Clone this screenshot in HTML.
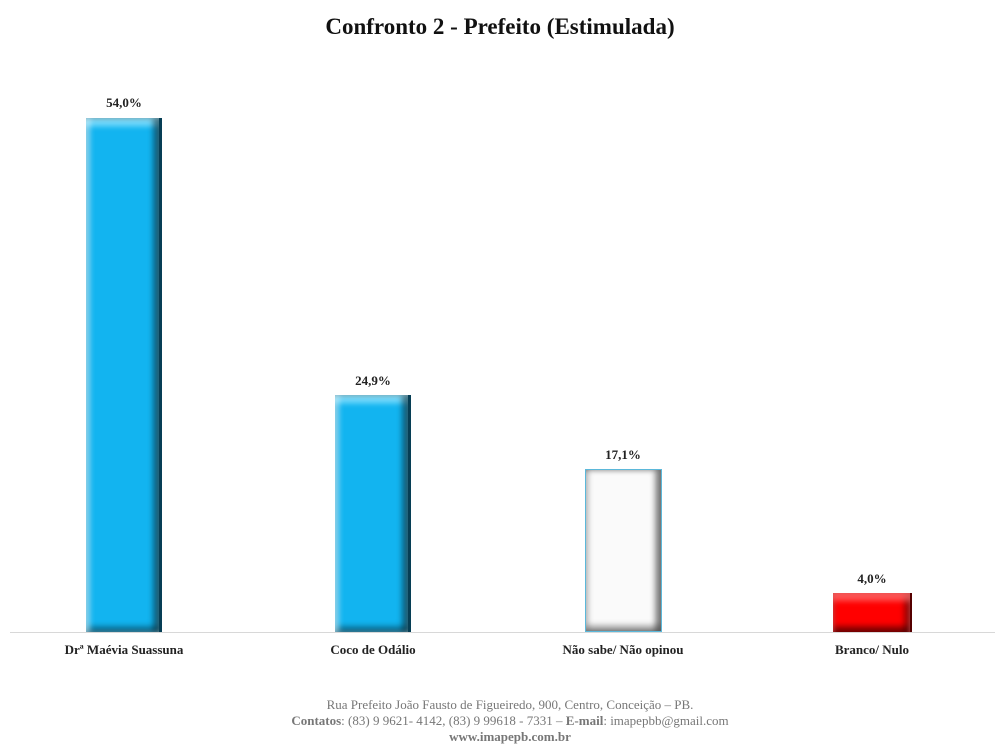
<!DOCTYPE html>
<html><head><style>
body{margin:0;width:1000px;height:750px;background:#fff;position:relative;font-family:"Liberation Serif",serif;overflow:hidden}
.t{position:absolute;left:0;width:1000px;text-align:center;font-weight:bold;font-size:23px;top:14px;color:#111}
.bar{position:absolute;width:76px;box-sizing:border-box}
.blue{background:#12b4f0;box-shadow:inset 5px 0 5px rgba(255,255,255,.35),inset -6px 0 6px rgba(0,0,0,.45),inset 0 8px 6px rgba(150,230,255,.8),inset 0 -6px 6px rgba(0,0,0,.35);border-right:3px solid #063e55}
.white{background:#fafafa;border:1px solid #5bb8da;box-shadow:inset -6px 0 6px rgba(0,0,0,.45),inset 0 -6px 6px rgba(0,0,0,.3),inset 4px 0 4px rgba(200,200,200,.5)}
.red{background:#f00;box-shadow:inset 0 8px 6px rgba(255,120,120,.7),inset -6px 0 6px rgba(0,0,0,.4),inset 0 -6px 6px rgba(0,0,0,.45);border-right:2px solid #500}
.v{position:absolute;width:120px;text-align:center;font-weight:bold;font-size:13px;color:#222}
.l{position:absolute;width:200px;text-align:center;font-weight:bold;font-size:13px;top:642px;color:#222}
.axis{position:absolute;left:10px;width:985px;top:632px;height:1px;background:#d8d8d8}
.f{position:absolute;left:10px;width:1000px;text-align:center;font-size:13px;color:#777;line-height:16px;top:697px}
</style></head><body>
<div class="t">Confronto 2 - Prefeito (Estimulada)</div>
<div class="v" style="left:64px;top:95px">54,0%</div>
<div class="bar blue" style="left:86px;top:118px;height:514px"></div>
<div class="v" style="left:313px;top:373px">24,9%</div>
<div class="bar blue" style="left:335px;top:395px;height:237px"></div>
<div class="v" style="left:563px;top:447px">17,1%</div>
<div class="bar white" style="left:585px;top:469px;height:163px;width:77px"></div>
<div class="v" style="left:812px;top:571px">4,0%</div>
<div class="bar red" style="left:833px;top:593px;height:39px;width:79px"></div>
<div class="axis"></div>
<div class="l" style="left:24px">Drª Maévia Suassuna</div>
<div class="l" style="left:273px">Coco de Odálio</div>
<div class="l" style="left:523px">Não sabe/ Não opinou</div>
<div class="l" style="left:772px">Branco/ Nulo</div>
<div class="f">Rua Prefeito João Fausto de Figueiredo, 900, Centro, Conceição – PB.<br><b>Contatos</b>: (83) 9 9621- 4142, (83) 9 99618 - 7331 – <b>E-mail</b>: imapepbb@gmail.com<br><b>www.imapepb.com.br</b></div>
</body></html>
